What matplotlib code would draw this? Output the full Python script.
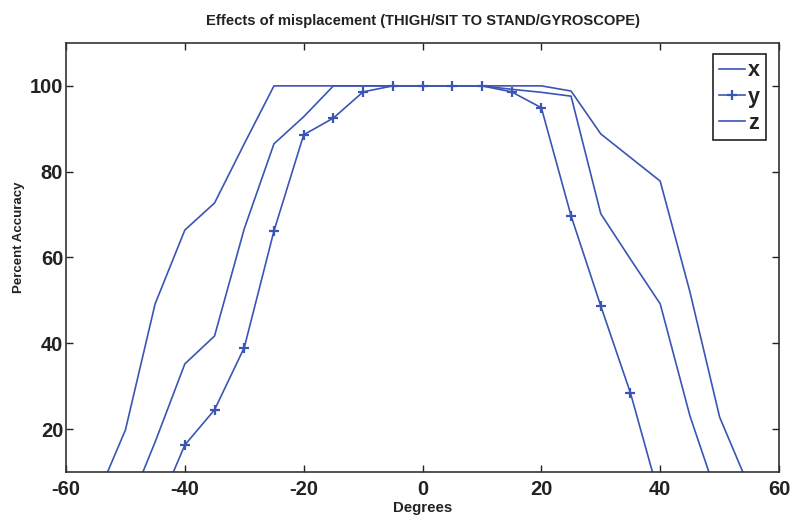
import matplotlib
matplotlib.use("Agg")
import matplotlib.pyplot as plt

plt.rcParams['font.family'] = ['Liberation Sans', 'DejaVu Sans']
plt.rcParams['axes.unicode_minus'] = False

degrees = [-55, -50, -45, -40, -35, -30, -25, -20, -15, -10, -5, 0,
           5, 10, 15, 20, 25, 30, 35, 40, 45, 50, 55]
acc_x = [3.5, 19.8, 49.2, 66.4, 72.7, 86.5, 100, 100, 100, 100, 100, 100,
         100, 100, 100, 100, 98.8, 88.8, 83.3, 77.8, 52.0, 22.8, 6.4]
acc_y = [0, 0, 0, 16.3, 24.5, 39.0, 66.2, 88.6, 92.5, 98.6, 100, 100,
         100, 100, 98.6, 94.9, 69.7, 48.7, 28.4, 3.5, 0, 0, 0]
acc_z = [0, 0, 17.0, 35.2, 41.7, 66.7, 86.5, 92.8, 100, 100, 100, 100,
         100, 100, 99.2, 98.5, 97.6, 70.2, 59.6, 49.2, 23.1, 2.6, 0]

xticks = [-60, -40, -20, 0, 20, 40, 60]
yticks = [20, 40, 60, 80, 100]

color = '#3b55b4'
fig = plt.figure(figsize=(8, 5.24), dpi=100)
ax = fig.add_axes([0.0825, 0.0992, 0.8913, 0.8188])

ax.plot(degrees, acc_x, color=color, lw=1.2, label='x')
ax.plot(degrees, acc_y, color=color, lw=1.2, marker='+', ms=6.5, mew=1.6, label='y')
ax.plot(degrees, acc_z, color=color, lw=1.2, label='z')

ax.set_xlim(-60, 60)
ax.set_ylim(10, 110)
ax.set_xticks(xticks)
ax.set_yticks(yticks)
ax.tick_params(direction='in', length=5, width=1, top=True, right=True,
               labelsize=14.5, colors='#222222')
ax.tick_params(axis='x', pad=6)
ax.tick_params(axis='y', pad=2)
for lab in ax.get_xticklabels() + ax.get_yticklabels():
    lab.set_fontweight('bold')
for s in ax.spines.values():
    s.set_linewidth(1.2)
    s.set_color('#333333')

ax.set_title('Effects of misplacement (THIGH/SIT TO STAND/GYROSCOPE)',
             fontsize=10.6, fontweight='bold', color='#222222', pad=13)
ax.set_xlabel('Degrees', fontsize=10.8, fontweight='bold', color='#222222', labelpad=1)
ax.set_ylabel('Percent Accuracy', fontsize=9.5, fontweight='bold', color='#222222')
ax.yaxis.set_label_coords(-0.0575, 0.548)

leg = ax.legend(loc='upper right', bbox_to_anchor=(0.982, 0.975), fancybox=False,
                edgecolor='#222222', framealpha=1, handlelength=1.2,
                handletextpad=0.12, borderpad=0.3, labelspacing=0.25,
                prop={'size': 15.5, 'weight': 'bold'}, borderaxespad=0)
leg.get_frame().set_linewidth(1.2)
for t in leg.get_texts():
    t.set_color('#222222')

fig.savefig('out.png', dpi=100)
